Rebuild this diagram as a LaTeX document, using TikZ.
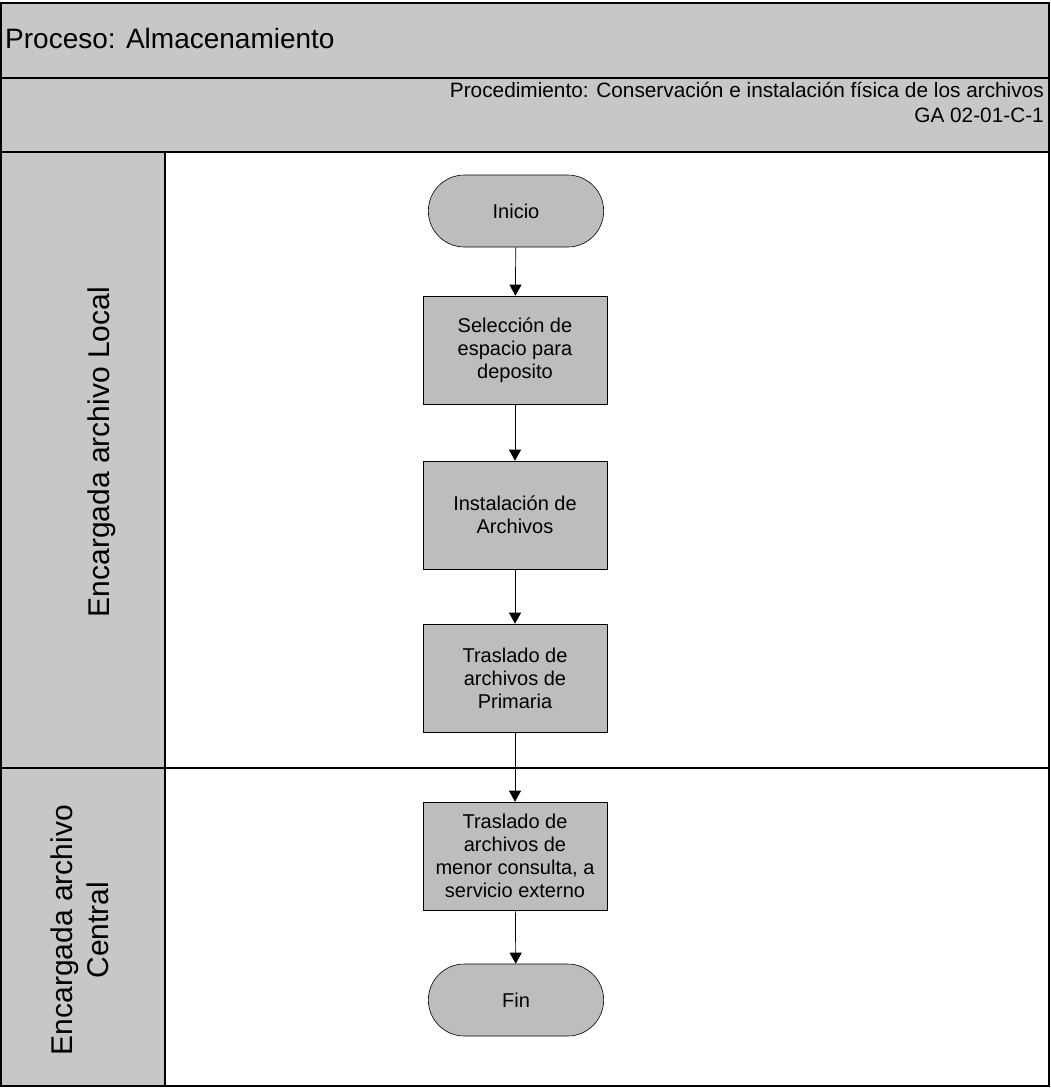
\documentclass[tikz,border=0pt]{standalone}
\usepackage{fontspec}
\setmainfont{Liberation Sans}
\usetikzlibrary{arrows.meta,shapes.misc}
\definecolor{bandgray}{gray}{0.78}
\definecolor{boxgray}{gray}{0.74}
\tikzset{
  band/.style={fill=bandgray,draw=none},
  frame/.style={line width=1.6pt,draw=black},
  stepbox/.style={rectangle,draw=black,line width=0.6pt,fill=boxgray,
    minimum width=184pt,minimum height=108pt,align=center,inner sep=2pt,
    font=\fontsize{20}{23}\selectfont},
  terminal/.style={rounded rectangle,draw=black,line width=0.6pt,fill=boxgray,
    minimum width=182pt,minimum height=72pt,font=\fontsize{20}{23}\selectfont},
  flow/.style={line width=0.7pt,-{Triangle[width=12pt,length=11pt]}},
  lanelabel/.style={rotate=90,align=center,font=\fontsize{30}{36}\selectfont},
  header/.style={anchor=base east,inner sep=0pt,font=\fontsize{20.8}{24}\selectfont},
}
\begin{document}
\begin{tikzpicture}[x=1pt,y=-1pt]
\useasboundingbox (0,0) rectangle (1051,1090);
% shaded header bands and lane-name column
\fill[band] (1,3) rectangle (1049,152);
\fill[band] (1,152) rectangle (165,1086);
\fill[white] (165,152) rectangle (1049,1086);
% frame and dividing lines
\draw[frame] (1,3) rectangle (1049,1086);
\draw[frame] (1,78) -- (1049,78);
\draw[frame] (1,152) -- (1049,152);
\draw[frame] (165,152) -- (165,1086);
\draw[line width=1.2pt] (1,768) -- (1049,768);
% header texts
\node[anchor=base west,inner sep=0pt,font=\fontsize{28}{32}\selectfont] (title) at (5,48) {Proceso: Almacenamiento};
\node[header] (proc) at (1044,97) {Procedimiento: Conservación e instalación física de los archivos};
\node[header] (code) at (1044,122) {GA 02-01-C-1};
% lane names
\node[lanelabel] (laneA) at (102,452) {Encargada archivo Local};
\node[lanelabel] (laneB) at (80,930) {Encargada archivo\\Central};
% flow steps
\node[terminal] (ini) at (516,211) {Inicio};
\node[stepbox] (s1) at (515,350) {Selección de\\espacio para\\deposito};
\node[stepbox] (s2) at (515,515) {Instalación de\\Archivos};
\node[stepbox] (s3) at (515,678) {Traslado de\\archivos de\\Primaria};
\node[stepbox] (s4) at (515,856) {Traslado de\\archivos de\\menor consulta, a\\servicio externo};
\node[terminal] (fin) at (516,1000) {Fin};
% connectors
\draw[flow] (ini) -- (s1);
\draw[flow] (s1) -- (s2);
\draw[flow] (s2) -- (s3);
\draw[flow] (s3) -- (s4);
\draw[flow] (s4) -- (fin);
\end{tikzpicture}
\end{document}
